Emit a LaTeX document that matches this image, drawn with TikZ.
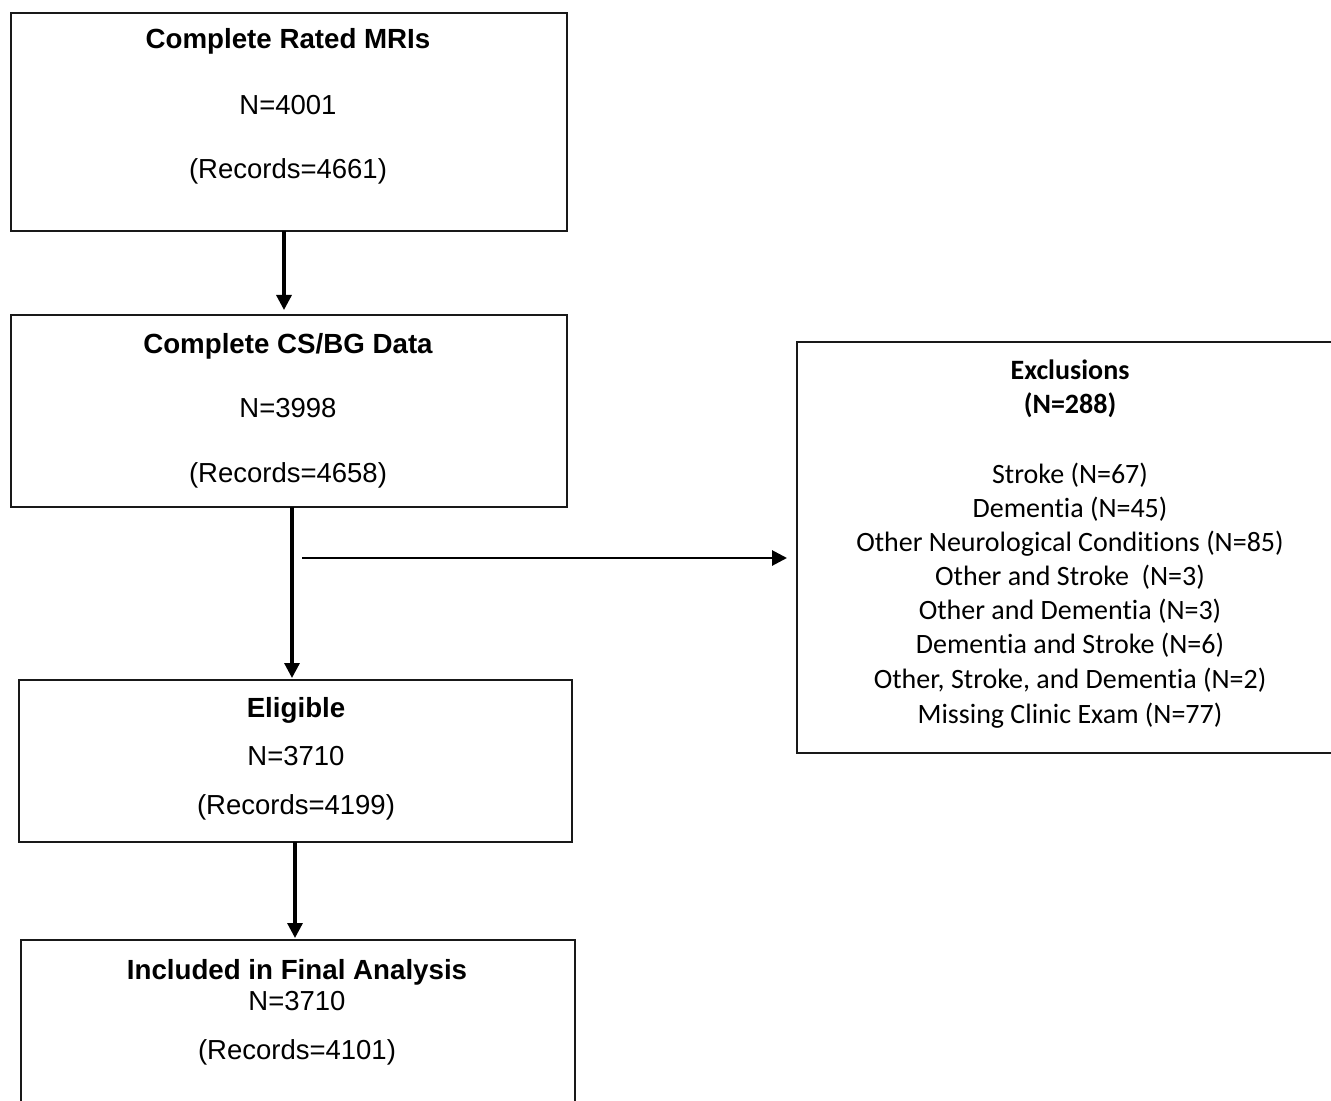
\documentclass[tikz,border=0pt]{standalone}
\usepackage{fontspec}
\setmainfont{Liberation Sans}
\newfontfamily\calfont[Ligatures={NoCommon,NoContextual}]{Carlito}
\usetikzlibrary{arrows.meta}
\begin{document}
\begin{tikzpicture}[x=0.5pt,y=-0.5pt,
  box/.style={draw=black!90, line width=1.1pt, inner sep=0pt, outer sep=0pt, rectangle},
  lbl/.style={anchor=base, inner sep=0pt, font=\fontsize{13.75}{16}\selectfont},
  lblb/.style={lbl, font=\fontsize{13.85}{16}\selectfont\bfseries},
  exl/.style={anchor=base, inner sep=0pt, font=\fontsize{14}{17}\selectfont\calfont},
  exlb/.style={exl, font=\fontsize{14}{17}\selectfont\calfont\bfseries},
  arr/.style={line width=1.6pt, -{Triangle[width=7.5pt,length=7.5pt]}}]
\useasboundingbox (0,0) rectangle (1331,1101);
\clip (0,0) rectangle (1331,1101);
% boxes
\node[box, minimum width=278pt, minimum height=109pt] (b1) at (289,122) {};
\node[box, minimum width=278pt, minimum height=96pt] (b2) at (289,411) {};
\node[box, minimum width=276.5pt, minimum height=81pt] (b3) at (295.5,761) {};
\node[box, minimum width=277pt, minimum height=90pt] (b4) at (298,1030) {};
\node[box, minimum width=276.5pt, minimum height=205.5pt] (exc) at (1073.5,547.5) {};
% box 1 text
\node[lblb] (t1a) at (288,49) {Complete Rated MRIs};
\node[lbl] (t1b) at (288,115) {N=4001};
\node[lbl] (t1c) at (288,179) {(Records=4661)};
% box 2 text
\node[lblb] (t2a) at (288,353) {Complete CS/BG Data};
\node[lbl] (t2b) at (288,417) {N=3998};
\node[lbl] (t2c) at (288,482) {(Records=4658)};
% box 3 text
\node[lblb] (t3a) at (296,717) {Eligible};
\node[lbl] (t3b) at (296,765) {N=3710};
\node[lbl] (t3c) at (296,814) {(Records=4199)};
% box 4 text
\node[lblb] (t4a) at (297,979) {Included in Final Analysis};
\node[lbl] (t4b) at (297,1010) {N=3710};
\node[lbl] (t4c) at (297,1059) {(Records=4101)};
% exclusions text
\node[exlb] (e0) at (1070,379) {Exclusions};
\node[exlb] (e1) at (1070,413) {(N=288)};
\node[exl] (e2) at (1070,483) {Stroke (N=67)};
\node[exl] (e3) at (1070,517) {Dementia (N=45)};
\node[exl] (e4) at (1070,551) {Other Neurological Conditions (N=85)};
\node[exl] (e5) at (1070,585) {Other and Stroke\ \ (N=3)};
\node[exl] (e6) at (1070,619) {Other and Dementia (N=3)};
\node[exl] (e7) at (1070,653) {Dementia and Stroke (N=6)};
\node[exl] (e8) at (1070,688) {Other, Stroke, and Dementia (N=2)};
\node[exl] (e9) at (1070,723) {Missing Clinic Exam (N=77)};
% connectors
\draw[arr, shorten >=2.5pt] ([xshift=-2.5pt]b1.south) -- ([xshift=-2.5pt]b1.south |- b2.north);
\draw[arr, shorten >=1pt] ([xshift=1.5pt]b2.south) -- ([xshift=1.5pt]b2.south |- b3.north);
\draw[arr, shorten >=1pt] ([xshift=-0.25pt]b3.south) -- ([xshift=-0.25pt]b3.south |- b4.north);
\coordinate (hs) at (302,558);
\draw[arr, line width=1.4pt, shorten >=5pt] (hs) -- (hs -| exc.west);
\end{tikzpicture}
\end{document}
